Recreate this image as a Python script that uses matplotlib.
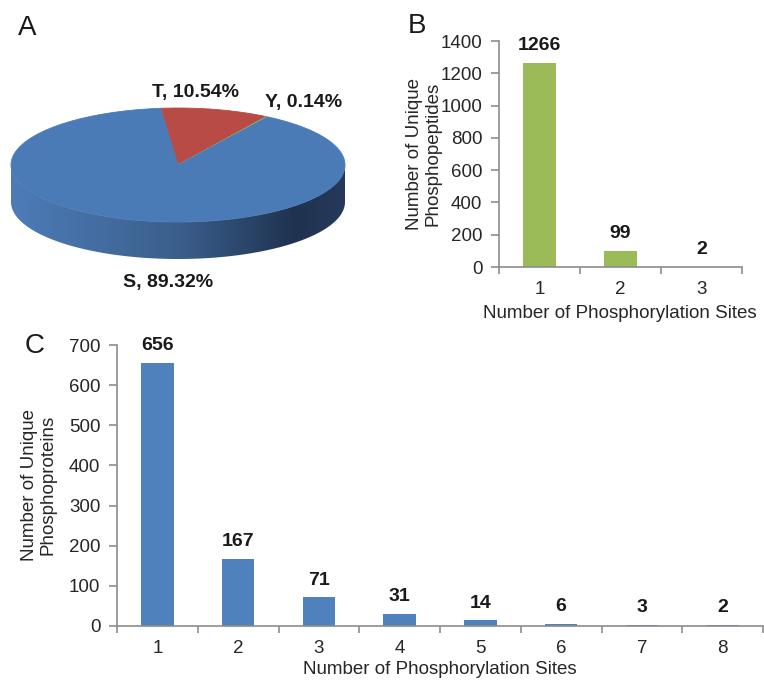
import numpy as np
import matplotlib
matplotlib.use("Agg")
from matplotlib import pyplot as plt
from matplotlib.patches import Polygon
from matplotlib.colors import to_rgb

plt.rcParams['font.family'] = ['Liberation Sans', 'DejaVu Sans']

# Panel A: residue distribution
pie_labels = ["T", "Y", "S"]
pie_pct = [10.54, 0.14, 89.32]
pie_colors = ["#b94b47", "#9bbb59", "#4a7bb7"]

# Panel B: phosphopeptides per number of sites
b_sites = [1, 2, 3]
b_counts = [1266, 99, 2]

# Panel C: phosphoproteins per number of sites
c_sites = [1, 2, 3, 4, 5, 6, 7, 8]
c_counts = [656, 167, 71, 31, 14, 6, 3, 2]

xlabel = "Number of Phosphorylation Sites"
b_ylabel = "Number of Unique\nPhosphopeptides"
c_ylabel = "Number of Unique\nPhosphoproteins"

W, H = 764, 683
fig = plt.figure(figsize=(W / 100, H / 100), dpi=100)

# background axes in pixel coordinates for pie, letters and axis titles
bg = fig.add_axes([0, 0, 1, 1])
bg.set_xlim(0, W)
bg.set_ylim(H, 0)
bg.axis("off")

# ---- 3D pie (A) ----
cx, cy, ra, rb, depth = 178, 165, 167, 57, 37
start = 96.0


def ell(theta_deg, dy=0):
    t = np.radians(theta_deg)
    return cx + ra * np.cos(t), cy - rb * np.sin(t) + dy


# side band: horizontal gradient clipped to the front rim
side_stops = [(0.0, "#4d7cb8"), (0.5, "#3b5f8c"), (0.85, "#1f3350"), (1.0, "#26395a")]
fx = np.linspace(0, 1, 400)
grad = np.zeros((2, 400, 3))
for k in range(3):
    grad[:, :, k] = np.interp(fx, [s[0] for s in side_stops],
                              [to_rgb(s[1])[k] for s in side_stops])
ts = np.linspace(180, 360, 200)
rim = [ell(t) for t in ts] + [ell(t, depth) for t in ts[::-1]]
rim_patch = Polygon(rim, closed=True, facecolor="none", edgecolor="none")
bg.add_patch(rim_patch)
im = bg.imshow(grad, extent=(cx - ra, cx + ra, cy + rb + depth + 2, cy - 2),
               aspect="auto", interpolation="bilinear")
im.set_clip_path(rim_patch)

# top wedges, clockwise from start angle
ang = start
for lab, pct, col in zip(pie_labels, pie_pct, pie_colors):
    span = pct / 100 * 360
    tt = np.linspace(ang, ang - span, max(int(span * 2), 2))
    pts = [(cx, cy)] + [ell(t) for t in tt]
    bg.add_patch(Polygon(pts, closed=True, facecolor=col, edgecolor=col,
                         linewidth=0.6))
    ang -= span

bg.set_xlim(0, W)
bg.set_ylim(H, 0)

label_pos = {"T": (196, 93), "Y": (304, 103), "S": (168, 283)}
for lab, pct in zip(pie_labels, pie_pct):
    x, y = label_pos[lab]
    bg.text(x, y, f"{lab}, {pct:.2f}%", ha="center", va="center",
            fontsize=14, fontweight="bold", color="#1a1a1a")

bg.text(18, 28, "A", fontsize=20, va="center", ha="left", color="#1a1a1a")
bg.text(408, 26, "B", fontsize=20, va="center", ha="left", color="#1a1a1a")
bg.text(25, 346, "C", fontsize=20, va="center", ha="left", color="#1a1a1a")

spine_col = "#8c8c8c"
txt_col = "#262626"


def style_bar_axes(ax, n, ymax, ystep):
    ax.set_xlim(0.5, n + 0.5)
    ax.set_ylim(0, ymax)
    ax.set_yticks(np.arange(0, ymax + 1, ystep))
    for s in ["top", "right"]:
        ax.spines[s].set_visible(False)
    for s in ["left", "bottom"]:
        ax.spines[s].set_color(spine_col)
        ax.spines[s].set_linewidth(1.2)
    ax.set_xticks(np.arange(0.5, n + 1, 1))
    ax.set_xticklabels([])
    ax.set_xticks(np.arange(1, n + 1), minor=True)
    ax.set_xticklabels([str(i) for i in range(1, n + 1)], minor=True)
    ax.tick_params(axis="x", which="major", direction="out", length=5,
                   color=spine_col, width=1.2)
    ax.tick_params(axis="x", which="minor", length=0, pad=10, labelsize=13.5,
                   labelcolor=txt_col)
    ax.tick_params(axis="y", direction="out", length=6, color=spine_col,
                   width=1.2, pad=6, labelsize=13.5, labelcolor=txt_col)
    ax.patch.set_alpha(0)


def value_labels(ax, xs, vals):
    for x, v in zip(xs, vals):
        ax.annotate(str(v), (x, v), xytext=(0, 12.5), textcoords="offset points",
                    ha="center", va="center", fontsize=14, fontweight="bold",
                    color="#1a1a1a")


# ---- B ----
axb = fig.add_axes([499 / W, 1 - 267 / H, 243 / W, 226 / H])
axb.bar(b_sites, b_counts, width=0.4, color="#9bbb59")
style_bar_axes(axb, 3, 1400, 200)
value_labels(axb, b_sites, b_counts)
bg.text(424, 154, b_ylabel, rotation=90, ha="center", va="center",
        fontsize=13.5, color=txt_col, linespacing=1.15)
bg.text(620, 313, xlabel, ha="center", va="center", fontsize=13.5,
        color=txt_col)

# ---- C ----
axc = fig.add_axes([117 / W, 1 - 626 / H, 646 / W, 281 / H])
axc.bar(c_sites, c_counts, width=0.4, color="#4f81bd")
style_bar_axes(axc, 8, 700, 100)
value_labels(axc, c_sites, c_counts)
bg.text(38.5, 485, c_ylabel, rotation=90, ha="center", va="center",
        fontsize=13.5, color=txt_col, linespacing=1.15)
bg.text(440, 670, xlabel, ha="center", va="center", fontsize=13.5,
        color=txt_col)

fig.savefig("out.png", dpi=100)
